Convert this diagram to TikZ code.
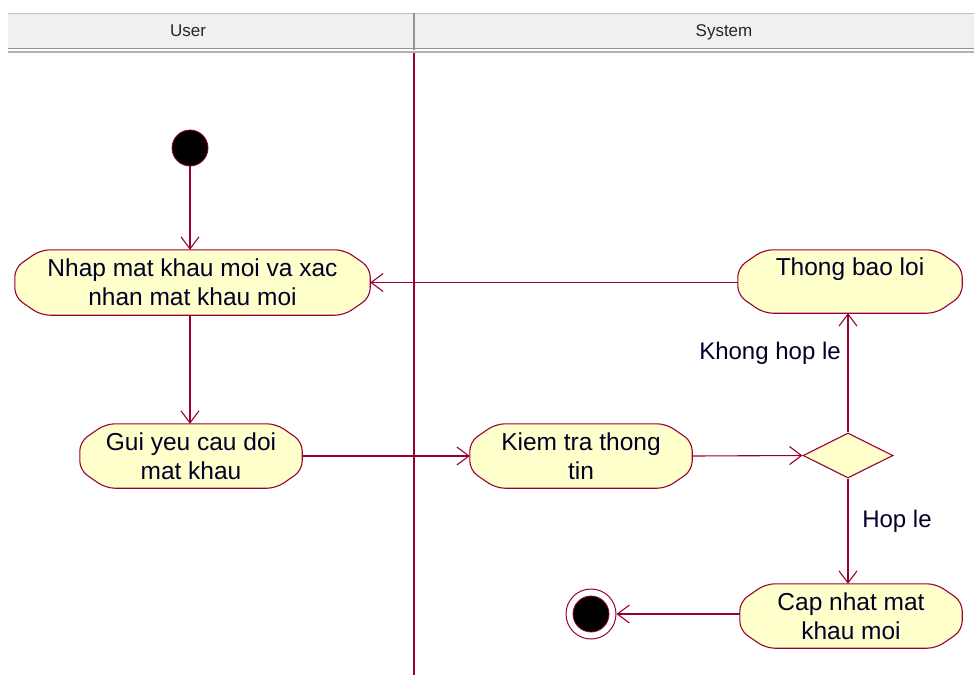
\documentclass[tikz,border=0pt]{standalone}
\usepackage{fontspec}
\setmainfont{Liberation Sans}
\usetikzlibrary{arrows.meta,shapes.geometric,backgrounds}
\definecolor{rline}{HTML}{990033}
\definecolor{afill}{HTML}{FFFFCC}
\definecolor{hdr}{HTML}{F0F0F0}
\newcommand\drawact[1]{%
  \draw[actline]
    ([xshift=26pt]#1.north west) -- ([xshift=-26pt]#1.north east)
    -- ([yshift=-18pt]#1.north east) -- ([yshift=18pt]#1.south east)
    -- ([xshift=-26pt]#1.south east) -- ([xshift=26pt]#1.south west)
    -- ([yshift=18pt]#1.south west) -- ([yshift=-18pt]#1.north west) -- cycle;}
\begin{document}
\begin{tikzpicture}[x=1pt,y=-1pt,
  act/.style={rectangle, align=center,
    font=\fontsize{24.5}{29}\selectfont, inner sep=0pt, text=black!85!blue},
  actline/.style={draw=rline, fill=afill, line width=1.1pt, rounded corners=9pt},
  arr/.style={draw=rline, line width=1.1pt, -{Straight Barb[length=12pt,width=18pt,line width=1.1pt]}},
  lbl/.style={font=\fontsize{24}{29}\selectfont, text=black!85!blue},
  hlbl/.style={font=\fontsize{17}{20}\selectfont, text=black!85, anchor=base}]
\useasboundingbox (0,0) rectangle (974,675);
% header
\fill[hdr] (8,13) rectangle (974,48);
\draw[gray!50, line width=0.8pt] (8,13.5) -- (974,13.5);
\draw[gray!85, line width=1.5pt] (8,48.5) -- (974,48.5);
\draw[gray!60, line width=1.5pt] (8,52) -- (974,52);
\draw[gray!85, line width=1.2pt] (414,13) -- (414,50);
\node[hlbl] (hu) at (188,36) {User};
\node[hlbl] (hs) at (724,36) {System};
% nodes
\node[circle, fill=black, draw=rline, line width=0.8pt, minimum size=36pt, inner sep=0pt] (start) at (190,148) {};
\node[act, minimum width=355pt, minimum height=65pt] (n1) at (192.5,282.5) {Nhap mat khau moi va xac\\nhan mat khau moi};
\node[act, minimum width=222pt, minimum height=64pt] (n2) at (191,456) {Gui yeu cau doi\\mat khau};
\node[act, minimum width=222pt, minimum height=64pt] (n3) at (581,456) {Kiem tra thong\\tin};
\node[act, minimum width=224pt, minimum height=63pt] (n4) at (850,281.5) {Thong bao loi\\\mbox{}};
\node[act, minimum width=222pt, minimum height=64pt] (n5) at (851,616) {Cap nhat mat\\khau moi};
\node[diamond, draw=rline, fill=afill, line width=1.1pt, minimum width=90pt, minimum height=45pt, inner sep=0pt] (d) at (848,455.5) {};
\node[circle, draw=rline, fill=white, line width=1pt, minimum size=50pt, inner sep=0pt] (endo) at (591,614) {};
\node[circle, draw=rline, fill=black, line width=0.8pt, minimum size=36pt, inner sep=0pt] (endi) at (591,614) {};
\begin{scope}[on background layer]
  \fill[white] (0,0) rectangle (974,675);
  \draw[rline, line width=1.1pt] (414,53) -- (414,675);
  \drawact{n1}\drawact{n2}\drawact{n3}\drawact{n4}\drawact{n5}
\end{scope}
% connectors
\draw[arr] (start.south) -- (start.south |- n1.north);
\draw[arr] (n1.south -| start) -- (n2.north -| start);
\draw[arr] (n2.east) -- (n3.west);
\draw[arr] (n3.east) -- (d.west);
\draw[arr] (d.north) -- (d.north |- n4.south);
\draw[arr] (n4.west |- n1.east) -- (n1.east);
\draw[arr] (d.south) -- (d.south |- n5.north);
\draw[arr] (n5.west |- endo) -- (endo.east);
% labels
\node[lbl] (l1) at (770,353) {Khong hop le};
\node[lbl] (l2) at (897,521) {Hop le};
\end{tikzpicture}
\end{document}
